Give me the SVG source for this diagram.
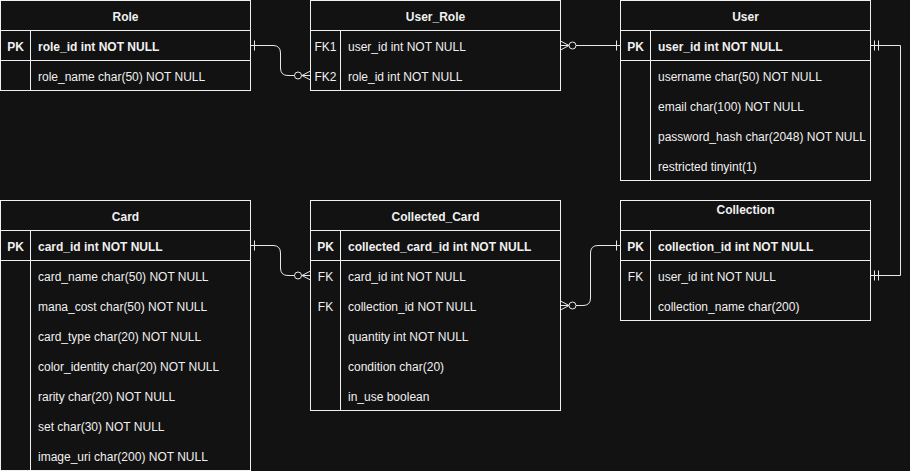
<svg xmlns="http://www.w3.org/2000/svg" width="910" height="471" viewBox="0 0 910 471">
<style>
.bg{fill:#121212}
.tb{fill:#121212;stroke:#f0f0f0;stroke-width:1}
.ln{stroke:#f0f0f0;stroke-width:1;fill:none}
text{font-family:"Liberation Sans",Arial,sans-serif;font-size:12px;fill:#f0f0f0}
.h{font-weight:bold;text-anchor:middle}
.k{text-anchor:middle}
.b{font-weight:bold}
.c{stroke:#e8e8e8;stroke-width:1;fill:none}
.o{stroke:#e8e8e8;stroke-width:1;fill:#121212}
</style>
<rect class="bg" x="0" y="0" width="910" height="471"/>

<g id="Role">
<rect class="tb" x="0.5" y="0.5" width="250" height="90"/>
<path class="ln" d="M0.5 30.5H250.5M0.5 60.5H250.5M30.5 30.5V90.5"/>
<text class="h" x="125.5" y="21">Role</text>
<text class="k b" x="15.5" y="51">PK</text>
<text class="b" x="38" y="51">role_id int NOT NULL</text>
<text x="38" y="81">role_name char(50) NOT NULL</text>
</g>

<g id="User_Role">
<rect class="tb" x="310.5" y="0.5" width="250" height="90"/>
<path class="ln" d="M310.5 30.5H560.5M340.5 30.5V90.5"/>
<text class="h" x="435.5" y="21">User_Role</text>
<text class="k" x="325.5" y="51">FK1</text>
<text x="348" y="51">user_id int NOT NULL</text>
<text class="k" x="325.5" y="81">FK2</text>
<text x="348" y="81">role_id int NOT NULL</text>
</g>

<g id="User">
<rect class="tb" x="620.5" y="0.5" width="250" height="180"/>
<path class="ln" d="M620.5 30.5H870.5M620.5 60.5H870.5M650.5 30.5V180.5"/>
<text class="h" x="745.5" y="21">User</text>
<text class="k b" x="635.5" y="51">PK</text>
<text class="b" x="658" y="51">user_id int NOT NULL</text>
<text x="658" y="81">username char(50) NOT NULL</text>
<text x="658" y="111">email char(100) NOT NULL</text>
<text x="658" y="141">password_hash char(2048) NOT NULL</text>
<text x="658" y="171">restricted tinyint(1)</text>
</g>

<g id="Card">
<rect class="tb" x="0.5" y="200.5" width="250" height="270"/>
<path class="ln" d="M0.5 230.5H250.5M0.5 260.5H250.5M30.5 230.5V470.5"/>
<text class="h" x="125.5" y="221">Card</text>
<text class="k b" x="15.5" y="251">PK</text>
<text class="b" x="38" y="251">card_id int NOT NULL</text>
<text x="38" y="281">card_name char(50) NOT NULL</text>
<text x="38" y="311">mana_cost char(50) NOT NULL</text>
<text x="38" y="341">card_type char(20) NOT NULL</text>
<text x="38" y="371">color_identity char(20) NOT NULL</text>
<text x="38" y="401">rarity char(20) NOT NULL</text>
<text x="38" y="431">set char(30) NOT NULL</text>
<text x="38" y="461">image_uri char(200) NOT NULL</text>
</g>

<g id="Collected_Card">
<rect class="tb" x="310.5" y="200.5" width="250" height="210"/>
<path class="ln" d="M310.5 230.5H560.5M310.5 260.5H560.5M340.5 230.5V410.5"/>
<text class="h" x="435.5" y="221">Collected_Card</text>
<text class="k b" x="325.5" y="251">PK</text>
<text class="b" x="348" y="251">collected_card_id int NOT NULL</text>
<text class="k" x="325.5" y="281">FK</text>
<text x="348" y="281">card_id int NOT NULL</text>
<text class="k" x="325.5" y="311">FK</text>
<text x="348" y="311">collection_id NOT NULL</text>
<text x="348" y="341">quantity int NOT NULL</text>
<text x="348" y="371">condition char(20)</text>
<text x="348" y="401">in_use boolean</text>
</g>

<g id="Collection">
<rect class="tb" x="620.5" y="200.5" width="250" height="120"/>
<path class="ln" d="M620.5 230.5H870.5M620.5 260.5H870.5M650.5 230.5V320.5"/>
<text class="h" x="745.5" y="214">Collection</text>
<text class="k b" x="635.5" y="251">PK</text>
<text class="b" x="658" y="251">collection_id int NOT NULL</text>
<text class="k" x="635.5" y="281">FK</text>
<text x="658" y="281">user_id int NOT NULL</text>
<text x="658" y="311">collection_name char(200)</text>
</g>

<g id="connectors">
<path class="c" d="M250.5 45.5H273Q280.5 45.5 280.5 53V68Q280.5 75.5 288 75.5H310.5"/>
<path class="c" d="M254.5 40.5V50.5"/>
<path class="c" d="M302 75.5L310.5 71M302 75.5L310.5 80"/>
<circle class="o" cx="298" cy="75.5" r="3.5"/>
<path class="c" d="M560.5 45.5H620.5"/>
<path class="c" d="M616.5 40.5V50.5"/>
<path class="c" d="M569 45.5L560.5 41M569 45.5L560.5 50"/>
<circle class="o" cx="572.5" cy="45.5" r="3.5"/>
<path class="c" d="M870.5 45.5H900.5V275.5H870.5"/>
<path class="c" d="M874.5 40.5V50.5M878.5 40.5V50.5M874.5 270.5V280.5M878.5 270.5V280.5"/>
<path class="c" d="M250.5 245.5H273Q280.5 245.5 280.5 253V268Q280.5 275.5 288 275.5H310.5"/>
<path class="c" d="M254.5 240.5V250.5"/>
<path class="c" d="M302 275.5L310.5 271M302 275.5L310.5 280"/>
<circle class="o" cx="298" cy="275.5" r="3.5"/>
<path class="c" d="M560.5 305.5H583Q590.5 305.5 590.5 298V253Q590.5 245.5 598 245.5H620.5"/>
<path class="c" d="M616.5 240.5V250.5"/>
<path class="c" d="M569 305.5L560.5 301M569 305.5L560.5 310"/>
<circle class="o" cx="572.5" cy="305.5" r="3.5"/>
</g>
</svg>
